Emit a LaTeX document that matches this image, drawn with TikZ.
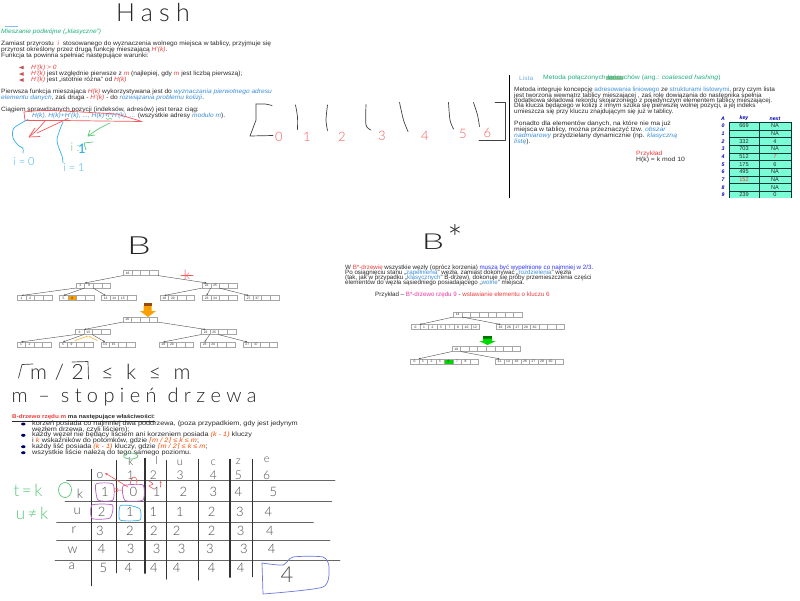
\documentclass[tikz,border=0pt]{standalone}
\usepackage{fontspec}
\usetikzlibrary{arrows.meta,shapes.geometric}
\setmainfont{Liberation Sans}
\newfontfamily\hand[UprightFont={* Light},ItalicFont={* Light Italic}]{Lato}
\newfontfamily\djv{DejaVu Sans}
\definecolor{tr}{HTML}{F03C3C}
\definecolor{tb}{HTML}{3C8FD8}
\definecolor{tg}{HTML}{1FB07C}
\definecolor{ink}{HTML}{2A2A2A}
\definecolor{hred}{HTML}{F8585C}
\definecolor{hblue}{HTML}{38B0EC}
\definecolor{hgreen}{HTML}{58C878}
\definecolor{hpurple}{HTML}{B060C0}
\definecolor{hviolet}{HTML}{6A78DC}
\definecolor{orng}{HTML}{F8A000}
\definecolor{aqua}{HTML}{7CFCD4}
\newcommand{\tred}[1]{\textcolor{tr}{\textit{#1}}}
\newcommand{\tblu}[1]{\textcolor{tb}{\textit{#1}}}
\newcommand{\tpnk}[1]{\textcolor{orange!60!red}{\textit{#1}}}
\newcommand{\lc}{{\djv ⌈}}
\newcommand{\rc}{{\djv ⌉}}
\tikzset{
  txt/.style={anchor=west,inner sep=0,text=ink,font=\fontsize{6.2}{6}\selectfont,xscale=1.07,transform shape},
  txtb/.style={anchor=west,inner sep=0,text=ink,font=\fontsize{6.2}{6}\selectfont,xscale=1.035,transform shape},
  txtc/.style={anchor=west,inner sep=0,text=ink,font=\fontsize{6.2}{6}\selectfont,xscale=1.1,transform shape},
  txtd/.style={anchor=west,inner sep=0,text=ink,font=\fontsize{6.4}{6}\selectfont,xscale=1.14,transform shape},
  txte/.style={anchor=west,inner sep=0,text=ink,font=\fontsize{6.2}{6}\selectfont},
  txtf/.style={anchor=west,inner sep=0,text=ink,font=\fontsize{5.5}{6}\selectfont\bfseries,xscale=1.14,transform shape},
  keycell/.style={draw=gray!70,line width=.4pt,inner sep=0,minimum height=4.7pt,fill=white,font=\fontsize{3.3}{3.3}\selectfont,text=ink},
  conn/.style={draw=gray!60!black,line width=.4pt,-{Stealth[length=2pt,width=1.6pt]}},
  stroke/.style={line width=.7pt,line cap=round,line join=round},
  inkline/.style={stroke,draw=black!75},
  hline/.style={draw=black!60,line width=.9pt,line cap=round},
  vline/.style={draw=black!80,line width=1.1pt,line cap=round},
  redl/.style={stroke,draw=hred},
  blul/.style={stroke,draw=hblue},
  grnl/.style={stroke,draw=hgreen},
  purl/.style={stroke,draw=hpurple},
  hw/.style={inner sep=0,text=black!70,font=\hand\fontsize{13}{13}\selectfont},
  hwr/.style={hw,text=hred},
  hwg/.style={hw,text=hgreen},
  hwb/.style={hw,text=hblue},
  tcell/.style={draw=black!55!teal,line width=.45pt,fill=aqua,inner sep=0,minimum height=7.67pt,text=ink,font=\fontsize{5.6}{5.6}\selectfont},
  tidx/.style={inner sep=0,text=blue!70!black,font=\fontsize{5.2}{5.2}\selectfont\bfseries\itshape},
}
\newcommand{\keyrow}[5]{%
  \foreach \t [count=\i] in {#5} {
    \node[keycell,minimum width=#4pt] (#1-\i) at ({#2+(\i-0.5)*#4},#3) {\t};
  }}
\newcommand{\tl}[5][txt]{\node[#1] (#2) at (#3,#4) {#5};}
\begin{document}
\begin{tikzpicture}[x=1pt,y=-1pt]
\useasboundingbox (0,0) rectangle (800,600);
\fill[white] (0,0) rectangle (800,600);

% ---------- Hash section ----------
\node[hw,text=black!85,font=\hand\fontsize{25}{25}\selectfont\addfontfeature{LetterSpace=25}] (hashtitle) at (153,13) {Hash};
\draw[stroke,draw=tb!60,line width=.4pt] (5,26) -- (18,26);
\tl{hm0}{1}{32}{\textcolor{tg}{\textit{Mieszanie podwójne („klasyczne”)}}}
\tl{hm1}{1}{44}{Zamiast przyrostu  \tred{ i } stosowanego do wyznaczenia wolnego miejsca w tablicy,  przyjmuje się}
\tl{hm2}{1}{49.5}{przyrost określony przez drugą funkcję mieszającą \tred{H'(k)}.}
\tl{hm3}{1}{55.5}{Funkcja ta powinna spełniać następujące warunki:}
\foreach \yy in {67.5,74,80}{\fill[red!70!black!70] (19,\yy) -- (23.5,{\yy-1.8}) -- (23.5,{\yy+1.8}) -- cycle;}
\tl{hm4}{31}{67.5}{\tred{H'(k) > 0}}
\tl{hm5}{31}{74}{\tred{H'(k)} jest względnie pierwsze z \tred{m} (najlepiej, gdy \tred{m} jest liczbą pierwszą);}
\tl{hm6}{31}{80}{\tred{H'(k)} jest „istotnie różna” od \tred{H(k)}}
\tl{hm7}{1}{92}{Pierwsza funkcja mieszająca \tred{H(k)} wykorzystywana jest do \tblu{wyznaczania pierwotnego adresu}}
\tl{hm8}{1}{97.5}{\tblu{elementu danych}, zaś druga - \tred{H'(k)} - do \tblu{rozwiązania problemu kolizji}.}
\tl{hm9}{1}{110}{Ciągiem sprawdzanych pozycji (indeksów, adresów) jest teraz ciąg:}
\tl{hm10}{32}{116}{\tblu{H(k), H(k)+H'(k), ..., H(k)+i*H'(k), ...} (wszystkie adresy \tblu{modulo m}).}

% strokes over the sequence
\draw[redl] plot[smooth] coordinates {(24,112) (50,110.5) (116,114)};
\draw[redl] (24,112) -- (25,120.5) -- (63,120.5) -- (142,121.5) -- (117,114);
\draw[redl] plot[smooth] coordinates {(45,121) (37,130) (29,137)};
\draw[redl] plot[smooth] coordinates {(68,118.5) (52,126) (37,133)};
\draw[redl] (29,137) -- (40,136.5) (29,137) -- (35,128);
\draw[grnl] plot[smooth] coordinates {(110,123) (100,128) (88,136)};
\draw[grnl] (88,136) -- (95,135) (88,136) -- (90,130);
\draw[grnl,line width=.5pt] plot[smooth] coordinates {(106,118) (108,119.5) (110,118) (112,119.5)};
\draw[blul] plot[smooth] coordinates {(28,119.5) (14,128) (13,138) (19,146) (23,148) (23,153)};
\draw[blul] plot[smooth] coordinates {(63,122) (57,140) (62,156) (63,163)};
\node[hwb,font=\hand\fontsize{11}{11}\selectfont] (i0) at (24,161.5) {i = 0};
\node[hwb,font=\hand\fontsize{11}{11}\selectfont] (i1) at (74,168) {i = 1};
\node[hwg,font=\hand\fontsize{12}{12}\selectfont] (igr) at (75,147) {i :};
\node[hwb,font=\hand\bfseries\fontsize{13}{13}\selectfont] (ibl) at (82,149) {1};
\draw[grnl] (84,143) -- (93,142) (84,143) -- (86,150);

% ---------- array drawn by hand ----------
\draw[inkline] plot[smooth] coordinates {(272,105.5) (265,104) (256,104)};
\draw[inkline] (256,104) -- (256,120) -- (250,136) -- (273,135.5);
\draw[inkline] (495,102.5) -- (505.5,102.5) -- (505.5,140) -- (479,140);
\draw[inkline] plot[smooth] coordinates {(295.5,105) (297.5,117) (297.5,129.5)};
\draw[inkline] plot[smooth] coordinates {(327.5,105) (326,120) (327.5,130.5)};
\draw[inkline] plot[smooth] coordinates {(366,104.5) (366,125) (371,130)};
\draw[inkline] plot[smooth] coordinates {(399.5,102.5) (403.5,120) (408,131.5)};
\draw[inkline] plot[smooth] coordinates {(448.5,102.5) (450,120) (453.5,129)};
\draw[inkline] plot[smooth] coordinates {(473.5,102.5) (477.5,115) (479.5,126.5)};
\foreach \d/\dx/\dy in {0/279/137,1/307/137,2/342/136.5,3/382/136,4/425/136,5/463/134,6/487.5/133}{
  \node[hwr] (arr\d) at (\dx,\dy) {\d};
}

% ---------- coalesced hashing ----------
\draw[black,line width=.8pt] (509,75) -- (509,197.5);
\fill[green!30!gray!60] (606,75.7) rectangle (623,80.3);
\tl{cm0}{519}{77.8}{\textcolor{tb!70}{Lista}}
\tl[txtc]{cm1}{543}{77.8}{\textcolor{tg}{Metoda połączonych łańcuchów (ang.: \textit{coalesced hashing})}}
\tl[txtb]{cm2}{514}{90}{Metoda integruje koncepcję \textcolor{tb}{adresowania liniowego} ze \textcolor{tb}{strukturami listowymi}, przy czym lista}
\tl[txtb]{cm3}{514}{95.5}{jest tworzona wewnątrz tablicy mieszającej , zaś rolę dowiązania do następnika  spełnia}
\tl[txtb]{cm4}{514}{100.8}{dodatkowa składowa rekordu skojarzonego z pojedynczym elementem tablicy mieszającej.}
\tl[txtb]{cm5}{514}{106}{Dla klucza będącego w kolizji z innym szuka się pierwszej wolnej pozycji, a jej indeks}
\tl[txtb]{cm6}{514}{111.7}{umieszcza się przy kluczu znajdującym się już w tablicy.}
\tl[txtc]{cm7}{514}{123.5}{Ponadto dla elementów danych, na które nie ma już}
\tl[txtc]{cm8}{514}{129.7}{miejsca w tablicy, można przeznaczyć tzw. \textcolor{tb}{\textit{obszar}}}
\tl[txtc]{cm9}{514}{135.8}{\textcolor{tb}{\textit{nadmiarowy}} przydzielany dynamicznie (np. \textcolor{tb}{\textit{klasyczną}}}
\tl[txtc]{cm10}{514}{142}{\textcolor{tb}{\textit{listę}}).}
\tl[txtc]{cm11}{636}{154}{\textcolor{tr}{Przykład}}
\tl[txtc]{cm12}{636}{160.3}{H(k) = k mod 10}

% table
\node[tidx] (thA) at (723,118.5) {A};
\node[tidx] (thK) at (744,118.5) {key};
\node[tidx] (thN) at (775,118.5) {next};
\begin{scope}
\clip (715,110) rectangle (800,197.8);
\foreach \i/\k/\n in {0/669/NA,1/{}/NA,2/332/4,3/703/NA,4/512/{\textcolor{tr}{\textit{7}}},5/175/6,6/495/NA,7/{\textcolor{tr}{152}}/NA,8/{}/NA,9/239/0}{
  \node[tidx] (ri\i) at (723,{126+\i*7.67}) {\i};
  \node[tcell,minimum width=30.5pt] (rk\i) at (744,{126+\i*7.67}) {\k};
  \node[tcell,minimum width=31.5pt] (rn\i) at (775,{126+\i*7.67}) {\n};
}
\end{scope}

% ---------- B tree ----------
\node[hw,text=black!85,font=\hand\fontsize{25}{25}\selectfont,xscale=1.5,transform shape] (btitle) at (139,246) {B};
\keyrow{ra}{123.3}{273}{8.6}{16,{},{},{}}
\keyrow{ma}{76}{285.5}{8.65}{3,9,{},{}}
\keyrow{mb}{202.3}{285.5}{8.6}{22,25,{},{}}
\keyrow{la}{17.3}{298}{8.6}{1,2,{},{}}
\keyrow{lb}{59.3}{298}{8.6}{5,8,{},{}}
\keyrow{lc}{101.3}{298}{8.6}{13,14,15,{}}
\keyrow{ld}{160}{298}{8.6}{18,20,{},{}}
\keyrow{le}{202.3}{298}{8.6}{23,24,{},{}}
\keyrow{lf}{244.3}{298}{8.6}{27,37,{},{}}
\node[keycell,minimum width=8.6pt,fill=orng] (lb-2o) at (lb-2) {8};
\draw[conn] (ra-1.south west) -- (ma-1.north east);
\draw[conn] (ra-4.south east) -- (mb-1.north);
\draw[conn] (ma-1.south west) -- (la-1.north);
\draw[conn] (ma-2.south west) -- (lb-1.north);
\draw[conn] (ma-3.south west) -- (lc-1.north);
\draw[conn] (mb-1.south west) -- (ld-1.north);
\draw[conn] (mb-2.south west) -- (le-1.north);
\draw[conn] (mb-3.south west) -- (lf-1.north);
\node[hwr,font=\hand\fontsize{13}{13}\selectfont] (kred) at (187,275) {k};
\draw[redl] (181,275) -- (193,275);

% orange arrow
\fill[orange!60!black] (143.5,302.5) rectangle (151.5,306);
\fill[orng] (143.5,306) -- (151.5,306) -- (151.5,311) -- (156,311) -- (148,317) -- (140,311) -- (143.5,311) -- cycle;

\keyrow{rb}{123}{319.5}{8.6}{16,{},{},{}}
\keyrow{na}{75.3}{332}{8.6}{3,13,{},{}}
\keyrow{nb}{201.3}{332}{8.6}{22,25,{},{}}
\keyrow{pa}{16.7}{344.5}{8.6}{1,2,{},{}}
\keyrow{pb}{58.7}{344.5}{8.6}{5,9,{},{}}
\keyrow{pc}{100.7}{344.5}{8.6}{14,15,{},{}}
\keyrow{pd}{159}{344.5}{8.6}{18,20,{},{}}
\keyrow{pe}{200.3}{344.5}{8.6}{23,24,{},{}}
\keyrow{pf}{243}{344.5}{8.6}{27,37,{},{}}
\draw[conn] (rb-1.south west) -- (na-1.north east);
\draw[conn] (rb-4.south east) -- (nb-1.north);
\draw[conn] (na-1.south west) -- (pa-1.north);
\draw[conn] (na-2.south west) -- (pb-1.north);
\draw[conn] (na-3.south west) -- (pc-1.north);
\draw[conn] (nb-1.south west) -- (pd-1.north);
\draw[conn] (nb-2.south west) -- (pe-1.north);
\draw[conn] (nb-3.south west) -- (pf-1.north);
\draw[stroke,draw=orng!70,-{Stealth[length=2pt]}] (75,340.5) -- (88,336);
\draw[stroke,draw=orng!70,-{Stealth[length=2pt]}] (97,340.5) -- (88.5,336);

% handwritten inequality
\draw[inkline] (18.5,378) -- (22,364.5) -- (33,364);
\draw[inkline] (72,362) -- (88,361.5) -- (88.5,379);
\node[hw,text=black!85,font=\hand\fontsize{21}{21}\selectfont\addfontfeature{LetterSpace=10}] (mhalf) at (57,372) {m / 2};
\node[hw,text=black!85,font=\hand\fontsize{21}{21}\selectfont\addfontfeature{LetterSpace=33}] (ineq) at (146,372) {≤ k ≤ m};
\node[hw,text=black!85,font=\hand\fontsize{20}{20}\selectfont\addfontfeature{LetterSpace=27}] (mdeg) at (134,397) {m – stopień drzewa};

% ---------- B* tree ----------
\node[hw,text=black!85,font=\hand\fontsize{22}{22}\selectfont,xscale=1.6,transform shape] (bstar) at (433,242) {B};
\node[hw,text=black!85,font=\hand\fontsize{36}{36}\selectfont] (bstars) at (455,238) {*};
\tl[txte]{sm1}{345}{267.7}{W \textcolor{tr}{B*-drzewie} wszystkie węzły (oprócz korzenia) \textcolor{blue!80}{muszą być wypełnione  co najmniej w 2/3}.}
\tl[txte]{sm2}{345}{273}{Po osiągnięciu stanu „\textcolor{tb}{zapełnienia}” węzła, zamiast dokonywać „\textcolor{tb}{rozdzielenia}” węzła}
\tl[txte]{sm3}{345}{278}{(tak, jak w przypadku „\textcolor{tb}{klasycznych}” B-drzew), dokonuje się próby przemieszczenia części}
\tl[txte]{sm4}{345}{283}{elementów do węzła sąsiedniego posiadającego „\textcolor{tb}{wolne}” miejsca.}
\tl[txte]{sm5}{375}{295}{Przykład – \textcolor{magenta!80}{B*-drzewo rzędu 9} - \textcolor{tr}{wstawianie elementu o kluczu 6}}
\keyrow{sa}{453.3}{314.5}{8.6}{14,{},{},{},{},{},{},{}}
\keyrow{sb}{411.3}{327}{8.5}{0,1,2,5,7,8,10,12}
\keyrow{sc}{496.3}{327}{8.5}{16,26,27,28,30,{},{},{}}
\draw[conn] (sa-1.south west) -- (sb-2.north west);
\draw[conn] (sa-1.south east) -- (sc-1.north);
\fill[green!45!black] (483,335.7) rectangle (492,338.5);
\fill[green!85!black] (483,338.5) -- (492,338.5) -- (492,341) -- (496,341) -- (487.5,345) -- (479,341) -- (483,341) -- cycle;
\keyrow{ta}{452}{349}{8.55}{10,{},{},{},{},{},{},{}}
\keyrow{tb}{410.3}{361.4}{8.5}{0,1,2,5,6,7,8,{}}
\keyrow{tc}{495.3}{361.4}{8.5}{12,14,16,26,27,28,30,{}}
\node[keycell,minimum width=8.5pt,fill=green!85!black] (tb-5g) at (tb-5) {6};
\draw[conn] (ta-1.south west) -- (tb-2.north west);
\draw[conn] (ta-1.south east) -- (tc-1.north);

% ---------- B-tree definition ----------
\tl[txtf]{bm0}{12}{418}{\underline{\textcolor{tr}{B-drzewo rzędu m} ma następujące właściwości:}}
\foreach \yy in {424,435.3,446.7,452.7}{\fill[blue!40!black] (23.3,\yy) ellipse (2.2pt and 1.5pt);}
\tl[txtd]{bm1}{32}{424}{korzeń posiada co najmniej dwa poddrzewa, (poza przypadkiem, gdy jest jedynym}
\tl[txtd]{bm2}{32}{429.5}{węzłem drzewa, czyli liściem);}
\tl[txtd]{bm3}{32}{435.3}{każdy węzeł nie będący liściem ani korzeniem posiada \tpnk{(k - 1)} kluczy}
\tl[txtd]{bm4}{32}{440.3}{i \tpnk{k} wskaźników do potomków, gdzie \tpnk{\lc m / 2\rc\ ≤ k ≤  m};}
\tl[txtd]{bm5}{32}{446.7}{każdy liść posiada \tpnk{(k - 1)} kluczy, gdzie \tpnk{\lc m / 2\rc\ ≤ k ≤  m};}
\tl[txtd]{bm6}{32}{452.7}{wszystkie liście należą do tego samego poziomu.}

% ---------- handwritten table ----------
\draw[hline] (66.7,480) -- (335,480);
\draw[hline] (65,501.7) -- (331.7,501.7);
\draw[hline] (56.7,522.7) -- (313.3,522.7);
\draw[hline] (56.7,540.7) -- (330,540.7);
\draw[hline] (55,560.7) -- (340,560.7);
\draw[vline] (91.7,469.3) -- (91.7,585.7);
\draw[vline] (116.7,460.7) -- (116.7,572.7);
\draw[vline] (145,458.3) -- (145,573.3);
\draw[vline] (166.7,460.7) -- (166.7,579);
\draw[vline] (198.3,459.3) -- (198.3,580);
\draw[vline] (230,459.3) -- (230,577.3);
\draw[vline] (252.7,459.3) -- (252.7,576.7);
\node[hw,font=\hand\fontsize{11}{11}\selectfont] (hk) at (130.7,461.5) {k};
\node[hw,font=\hand\fontsize{11}{11}\selectfont] (hl) at (156.7,460) {l};
\node[hw,font=\hand\fontsize{11}{11}\selectfont] (hu) at (180,463) {u};
\node[hw,font=\hand\fontsize{11}{11}\selectfont] (hc) at (213.3,463) {c};
\node[hw,font=\hand\fontsize{11}{11}\selectfont] (hz) at (238.3,462) {z};
\node[hw,font=\hand\fontsize{11}{11}\selectfont] (he) at (266.7,459.5) {e};
\foreach \nm/\xx in {0/100,1/130.7,2/153.3,3/180,4/213.3,5/238.3,6/266.7}{
  \node[hw,font=\hand\fontsize{12}{12}\selectfont] (hd\nm) at (\xx,475.5) {\ifnum\nm=0 o\else\nm\fi};
}
\node[hw] (rowk) at (80,493.3) {k};
\node[hw] (rowu) at (77.3,511.7) {u};
\node[hw] (rowr) at (74,530.7) {r};
\node[hw] (roww) at (72.7,550) {w};
\node[hw] (rowa) at (71.7,566.7) {a};
\foreach \lab/\rowy/\vals in {a/491.7/{105/1,133.3/0,156.7/1,183.3/2,213.3/3,238.3/4,273.3/5},b/511.7/{101.7/2,130/1,153.3/1,180/1,211.7/2,240/3,268.3/4},c/530.7/{100/3,130/2,154/2,176.7/2,211.7/2,240.7/3,270/4},d/549.3/{101.7/4,130.7/3,156.7/3,181.7/3,210/3,244/3,271.7/4},e/568.3/{103.3/5,128.3/4,154/4,176.7/4,211.7/4,240.7/4}}{
  \foreach \xx/\vv [count=\cc] in \vals {
    \node[hw] (c\lab\cc) at (\xx,\rowy) {\vv};
  }
}
\node[hw,font=\hand\fontsize{22}{22}\selectfont] (big4) at (287,575) {4};
\draw[purl] plot[smooth cycle,tension=.35] coordinates {(96,484) (113,484) (113,500) (98,500)};
\draw[purl] plot[smooth cycle,tension=.35] coordinates {(123,486) (143,485) (143,500) (125,500.5)};
\draw[purl] plot[smooth cycle,tension=.35] coordinates {(92,505) (112.5,505) (110,518) (92,518.5)};
\draw[blul] plot[smooth cycle,tension=.35] coordinates {(120,506) (130,505.5) (140,509) (140,520) (120,520)};
\draw[stroke,draw=hviolet] plot[smooth,tension=.4] coordinates {(262,563) (283,565) (293,557) (323,557) (329,567) (323,587) (263,594)} -- cycle;
\draw[grnl] (130.7,456) ellipse (7pt and 3pt);
\draw[grnl] (65,490) ellipse (6.5pt and 7.5pt);
\node[hwg,font=\hand\fontsize{17}{17}\selectfont\addfontfeature{LetterSpace=15}] (tk) at (28,490) {t=k};
\node[hwg,font=\hand\fontsize{17}{17}\selectfont\addfontfeature{LetterSpace=15}] (uk) at (32,513) {u≠k};
\draw[redl,line width=.6pt,{Stealth[length=3pt,width=2.4pt]}-] (105,473) -- (128,487);
\draw[redl,line width=.6pt] plot[smooth] coordinates {(130,485) (132,477.7) (136,478) (137,485)};
\draw[redl,line width=.5pt] (116,490) circle (2pt) (118,490) -- (123,490);
\draw[redl,line width=.6pt] plot[smooth] coordinates {(149,481) (153,484) (149,486) (154,489)};
\draw[redl,line width=.6pt,-{Stealth[length=2pt,width=2pt]}] (160.5,487) -- (160.7,481);
\end{tikzpicture}
\end{document}
